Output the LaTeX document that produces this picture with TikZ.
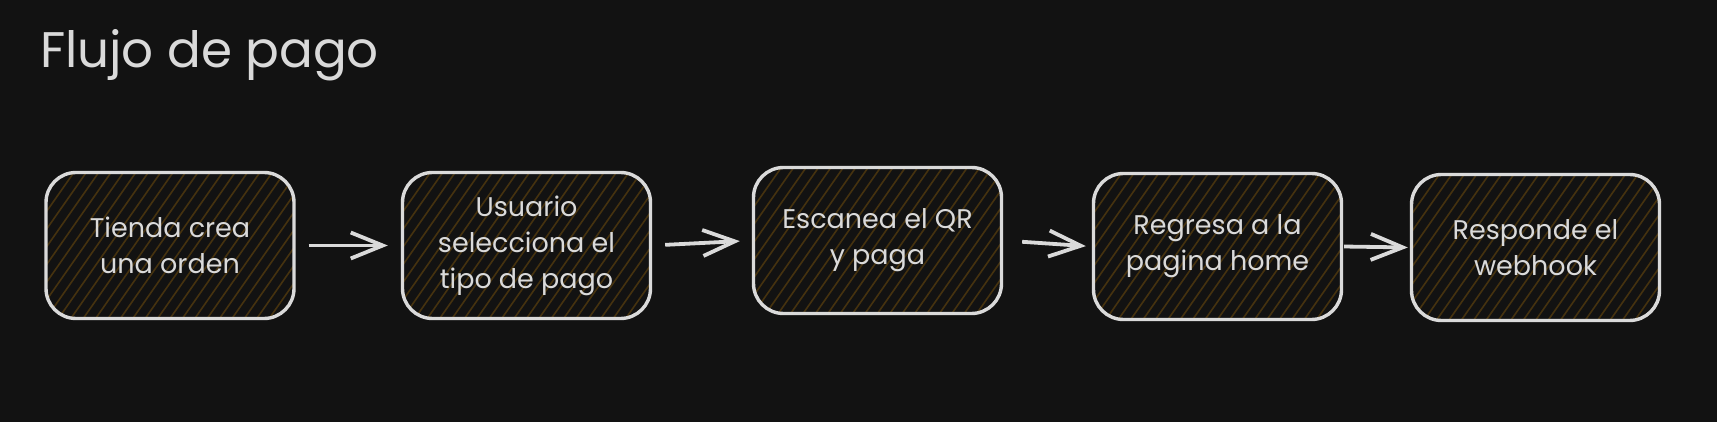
\documentclass[tikz,border=0pt]{standalone}
\usepackage{fontspec}
\setmainfont{Poppins}
\usepackage{tikz}
\usetikzlibrary{arrows.meta}
\definecolor{bgdark}{HTML}{121212}
\definecolor{inkgray}{HTML}{DADADA}
\definecolor{hatchbrown}{HTML}{45320F}

\begin{document}
\begin{tikzpicture}[x=0.5pt, y=-0.5pt, >={Straight Barb[length=16pt, width=13pt]},
    stepbox/.style={draw=inkgray, line width=1.7pt, rounded corners=15pt,
        minimum width=124pt, minimum height=73pt, align=center,
        font=\fontsize{13.5}{18}\selectfont, text=inkgray,
        path picture={\foreach \k in {-9,...,21}
            \draw[hatchbrown, line width=0.8pt]
                ([xshift=\k*6.2pt]path picture bounding box.south west) -- ++(55:110pt);}},
    flow/.style={->, draw=inkgray, line width=1.9pt}]

    \fill[bgdark] (0,0) rectangle (1717,422);
    
    \node[anchor=base west, text=inkgray, font=\fontsize{25}{30}\selectfont] (title) at (33,68) {Flujo de pago};
    
    \node[stepbox] (tienda) at (170,245.5) {Tienda crea\\una orden};
    \node[stepbox] (usuario) at (526.5,245.5) {Usuario\\selecciona el\\tipo de pago};
    \node[stepbox] (escanea) at (877.5,240.5) {Escanea el QR\\y paga};
    \node[stepbox] (regresa) at (1217.5,246.5) {Regresa a la\\pagina home};
    \node[stepbox] (responde) at (1535.5,247.5) {Responde el\\webhook};
    
    \draw[flow, shorten <=6.5pt, shorten >=6.5pt] (tienda.east) -- (usuario.west);
    \draw[flow, shorten <=6.5pt, shorten >=6pt] (usuario.east) -- (escanea.west);
    \draw[flow, shorten <=9.5pt, shorten >=3pt] (escanea.east) -- (regresa.west);
    \draw[flow, shorten <=0.5pt, shorten >=1pt] (regresa.east) -- (responde.west);
    
\end{tikzpicture}
\end{document}
